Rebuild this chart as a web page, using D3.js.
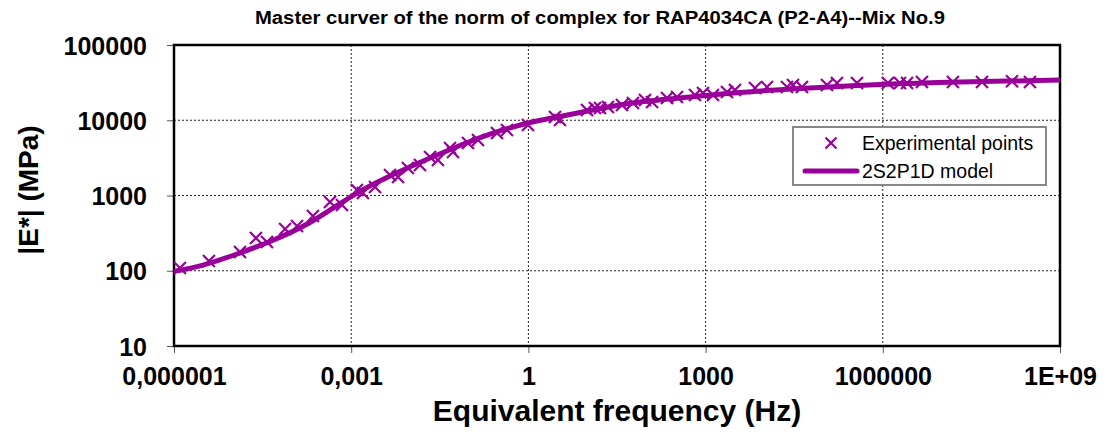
<!DOCTYPE html>
<html>
<head>
<meta charset="utf-8">
<script src="https://cdn.jsdelivr.net/npm/d3@7"></script>
<style>
  html, body { margin: 0; padding: 0; background: #fff; }
  svg { display: block; font-family: "Liberation Sans", Arial, sans-serif; }
</style>
</head>
<body>
<svg id="chart" width="1107" height="435"></svg>
<script>
// ---- Data ----
const expFreq = [1.26e-6, 3.9e-6, 1.31e-5, 2.44e-5, 3.75e-5, 7.6e-5, 1.21e-4, 2.25e-4, 4.37e-4, 6.98e-4,
  1.25e-3, 1.58e-3, 2.53e-3, 4.54e-3, 6.2e-3, 9.1e-3, 0.0146, 0.0216, 0.0294, 0.0471,
  0.0529, 0.0948, 0.140, 0.294, 0.434, 0.984, 2.82, 3.43, 9.82, 13.4,
  16.3, 22.2, 38.4, 58.9, 94.1, 124, 222, 328, 661, 903,
  1334, 2301, 3141, 6855, 10940, 23880, 30150, 42850, 113500, 167600,
  365600, 1.22e6, 1.95e6, 2.57e6, 4.6e6, 1.54e7, 4.78e7, 1.54e8, 3.1e8];
const expModulus = [109, 135, 178, 272, 241, 359, 394, 534, 820, 748,
  1184, 1079, 1297, 1872, 1762, 2318, 2541, 3250, 2966, 4278,
  3787, 4988, 5470, 6778, 7413, 8652, 11040, 10080, 13680, 14550,
  14550, 15000, 15960, 16950, 18580, 17500, 19770, 20370, 21670, 23020,
  21670, 23710, 25220, 26840, 27680, 27680, 29380, 27680, 29380, 31250,
  31250, 31250, 31250, 31250, 32200, 32200, 32200, 33000, 32200];

const modelFreq = [1e-6, 3.1e-6, 1.17e-5, 4.22e-5, 2.0e-4, 1.03e-3, 4.54e-3, 0.0216, 0.0695, 0.224,
  1, 3.43, 16.3, 77.4, 543, 3820, 39600, 8.95e5, 2.02e7, 1e9];
const modelModulus = [98, 119, 167, 245, 438, 984, 1816, 3150, 4613, 6564,
  9190, 11220, 14320, 17500, 20370, 23380, 26420, 29850, 32200, 34280];

const xTickValues = [1e-6, 1e-3, 1, 1e3, 1e6, 1e9];
const xTickLabels = ["0,000001", "0,001", "1", "1000", "1000000", "1E+09"];
const yTickValues = [10, 100, 1000, 10000, 100000];
const yTickLabels = ["10", "100", "1000", "10000", "100000"];

const titleText = "Master curver of the norm of complex for RAP4034CA (P2-A4)--Mix No.9";
const xTitle = "Equivalent frequency (Hz)";
const yTitle = "|E*| (MPa)";
const seriesNames = ["Experimental points", "2S2P1D model"];

// ---- Layout ----
const color = "#990099";
const pL = 174, pR = 1060, pT = 45, pB = 346;
const svg = d3.select("#chart");

const x = d3.scaleLog().domain([1e-6, 1e9]).range([pL, pR]);
const y = d3.scaleLog().domain([10, 100000]).range([pB, pT]);

// gridlines
const grid = svg.append("g");
grid.selectAll("line.gx").data(xTickValues.slice(1, -1)).join("line")
  .attr("x1", d => x(d)).attr("x2", d => x(d)).attr("y1", pT).attr("y2", pB)
  .attr("stroke", "#222").attr("stroke-width", 1).attr("stroke-dasharray", "2,2");
grid.selectAll("line.gy").data(yTickValues.slice(1, -1)).join("line")
  .attr("x1", pL).attr("x2", pR).attr("y1", d => y(d)).attr("y2", d => y(d))
  .attr("stroke", "#222").attr("stroke-width", 1).attr("stroke-dasharray", "2,2");

// axes
const xAxis = d3.axisBottom(x).tickValues(xTickValues)
  .tickFormat((d, i) => xTickLabels[i]).tickSizeInner(7).tickSizeOuter(0).tickPadding(14);
const yAxis = d3.axisLeft(y).tickValues(yTickValues)
  .tickFormat((d, i) => yTickLabels[i]).tickSizeInner(7).tickSizeOuter(0).tickPadding(20);

const gx = svg.append("g").attr("transform", `translate(0,${pB})`).call(xAxis);
const gy = svg.append("g").attr("transform", `translate(${pL},0)`).call(yAxis);
[gx, gy].forEach(g => {
  g.select(".domain").remove();
  g.selectAll(".tick line").attr("stroke", "#555").attr("stroke-width", 1);
  g.selectAll(".tick text").attr("fill", "#000").attr("font-size", 25).attr("font-weight", "bold")
    .attr("font-family", "Liberation Sans, Arial, sans-serif");
});
gx.selectAll(".tick text").attr("dy", "0.71em");
gy.selectAll(".tick text").attr("dy", "0.36em");

// plot border
svg.append("rect").attr("x", pL).attr("y", pT).attr("width", pR - pL).attr("height", pB - pT)
  .attr("fill", "none").attr("stroke", "#000").attr("stroke-width", 2.5);

// clip
svg.append("clipPath").attr("id", "clip").append("rect")
  .attr("x", pL).attr("y", pT).attr("width", pR - pL).attr("height", pB - pT);

const plot = svg.append("g").attr("clip-path", "url(#clip)");

// experimental points (x markers)
const ms = 6;
const pts = plot.append("g").selectAll("g").data(expFreq.map((f, i) => [f, expModulus[i]])).join("g")
  .attr("transform", d => `translate(${x(d[0])},${y(d[1])})`);
pts.append("path").attr("d", `M${-ms},${-ms}L${ms},${ms}M${-ms},${ms}L${ms},${-ms}`)
  .attr("stroke", color).attr("stroke-width", 2.2).attr("fill", "none");

// model line
const line = d3.line().x(d => x(d[0])).y(d => y(d[1])).curve(d3.curveNatural);
plot.append("path").datum(modelFreq.map((f, i) => [f, modelModulus[i]]))
  .attr("d", line).attr("fill", "none").attr("stroke", color).attr("stroke-width", 5)
  .attr("stroke-linecap", "round");

// title
svg.append("text").attr("x", 600).attr("y", 24).attr("text-anchor", "middle")
  .attr("font-size", 17.5).attr("font-weight", "bold")
  .attr("textLength", 690).attr("lengthAdjust", "spacingAndGlyphs").text(titleText);

// axis titles
svg.append("text").attr("x", 617).attr("y", 421).attr("text-anchor", "middle")
  .attr("font-size", 30).attr("font-weight", "bold").text(xTitle);
svg.append("text").attr("transform", "translate(38,190) rotate(-90)").attr("text-anchor", "middle")
  .attr("font-size", 28).attr("font-weight", "bold").text(yTitle);

// legend
const lg = svg.append("g");
lg.append("rect").attr("x", 793).attr("y", 127).attr("width", 253).attr("height", 58)
  .attr("fill", "#fff").attr("stroke", "#888").attr("stroke-width", 2);
lg.append("path").attr("transform", "translate(831,143)")
  .attr("d", `M${-5.5},${-5.5}L5.5,5.5M${-5.5},5.5L5.5,${-5.5}`)
  .attr("stroke", color).attr("stroke-width", 2.2);
lg.append("line").attr("x1", 805).attr("x2", 857).attr("y1", 171).attr("y2", 171)
  .attr("stroke", color).attr("stroke-width", 5).attr("stroke-linecap", "round");
lg.selectAll("text").data(seriesNames).join("text")
  .attr("x", 862).attr("y", (d, i) => 143 + i * 28).attr("dy", "0.35em")
  .attr("font-size", 19.5).attr("fill", "#000").text(d => d);
</script>
</body>
</html>
